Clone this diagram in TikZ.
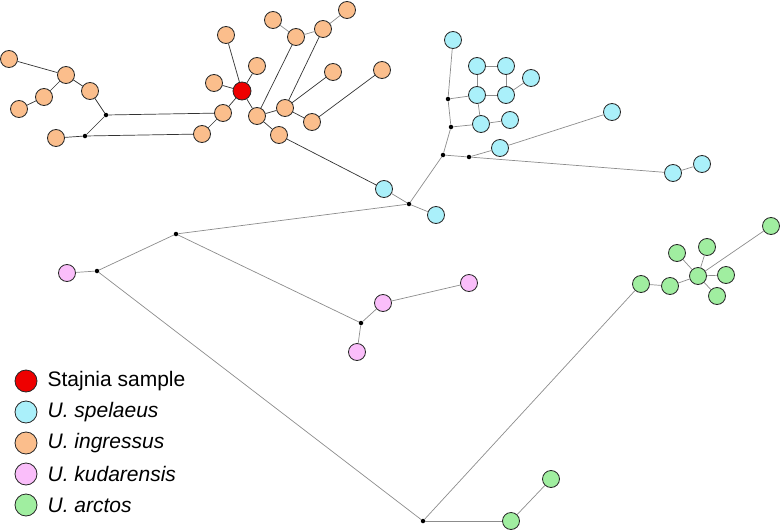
\documentclass[tikz,border=0pt]{standalone}
\usepackage{fontspec}
\setmainfont{Liberation Sans}
\usepackage{tikz}
\usetikzlibrary{positioning}

\definecolor{ingcol}{RGB}{251,190,140}
\definecolor{spelcol}{RGB}{170,240,250}
\definecolor{kudcol}{RGB}{250,190,250}
\definecolor{arccol}{RGB}{160,238,160}
\definecolor{stajcol}{RGB}{238,0,0}
\definecolor{lnkcol}{RGB}{140,140,140}

\tikzset{
  hap/.style={circle,draw=black!85,line width=0.8pt,minimum size=17pt,inner sep=0pt},
  ing/.style={hap,fill=ingcol},
  spel/.style={hap,fill=spelcol},
  kud/.style={hap,fill=kudcol},
  arc/.style={hap,fill=arccol},
  staj/.style={hap,fill=stajcol,minimum size=18pt},
  mv/.style={circle,fill=black,inner sep=0pt,minimum size=4.5pt},
  lnk/.style={draw=black!80,line width=0.7pt},
  lnkg/.style={draw=lnkcol,line width=0.7pt},
  key/.style={hap,minimum width=20pt,minimum height=22pt},
  keytext/.style={right=2pt,font=\fontsize{21}{25}\selectfont,inner sep=0pt}
}

\begin{document}
\begin{tikzpicture}[x=1pt,y=-1pt]
  \useasboundingbox (0,0) rectangle (782,530);
  % U. ingressus
  \foreach \n/\x/\y in {o1/9/59, o2/66/75, o3/90/91, o4/44/97, o5/19/109,
      o6/56/138, o7/223/113, o8/202/134, o9/214/83, o10/257/66, o11/226/35,
      o12/257/116, o13/279/135, o14/285/108, o15/312/122, o16/296/37,
      o17/273/20, o18/323/29, o19/347/10, o20/333/72, o21/382/70} {
    \node[ing] (\n) at (\x,\y) {};
  }
  \node[staj] (stajnia) at (242,91) {};
  % U. spelaeus
  \foreach \n/\x/\y in {s1/453/40, s2/477/66, s3/506/66, s4/531/78,
      s5/477/95, s6/506/95, s7/481/124, s8/510/120, s9/500/148,
      s10/612/112, s11/673/173, s12/702/164, s13/384/189, s14/436/215} {
    \node[spel] (\n) at (\x,\y) {};
  }
  % U. kudarensis
  \foreach \n/\x/\y in {k1/67/273, k2/383/303, k3/469/283, k4/357/352} {
    \node[kud] (\n) at (\x,\y) {};
  }
  % U. arctos
  \foreach \n/\x/\y in {a1/771/226, a2/677/253, a3/707/247, a4/698/276,
      a5/726/275, a6/717/296, a7/670/286, a8/641/284, a9/511/521,
      a10/551/479} {
    \node[arc] (\n) at (\x,\y) {};
  }
  % median vectors
  \foreach \n/\x/\y in {m1/106/115, m2/85/136, m3/448/99, m4/451/127,
      m5/443/155, m6/469/157, m7/409/204, m8/176/234, m9/97/271,
      m10/361/323, m11/423/521} {
    \node[mv] (\n) at (\x,\y) {};
  }
  % links
  \foreach \a/\b in {o1/o2, o2/o4, o4/o5, o2/o3, o3/m1, m1/m2, m2/o6,
      m1/o7, m2/o8, o8/o7, o7/stajnia, o9/stajnia, o10/stajnia,
      o11/stajnia, stajnia/o12, o12/o13, o12/o16, o12/o14, o14/o18,
      o14/o20, o14/o15, o15/o21, o13/s13} {
    \draw[lnk] (\a) -- (\b);
  }
  \foreach \a/\b in {o16/o17, o16/o18, o18/o19,
      s1/m3, m3/s5, s5/s2, s2/s3, s3/s6, s5/s6, s6/s4, s5/s7, m3/m4,
      m4/s7, s7/s8, m4/m5, m5/m6, m6/s9, s9/s10, m6/s11, s11/s12,
      m5/m7, m7/s13, m7/s14, m7/m8,
      m8/m9, m9/k1, m8/m10, m10/k2, k2/k3, m10/k4, m9/m11,
      m11/a9, a9/a10, m11/a8, a8/a7, a7/a4, a4/a2, a4/a3, a4/a5,
      a4/a6, a4/a1} {
    \draw[lnkg] (\a) -- (\b);
  }
  % key
  \node[key,fill=stajcol] (key1) at (26,381) {};
  \node[key,fill=spelcol] (key2) at (26,412) {};
  \node[key,fill=ingcol] (key3) at (26,443) {};
  \node[key,fill=kudcol] (key4) at (26,474) {};
  \node[key,fill=arccol] (key5) at (26,505) {};
  \node[keytext,right=10pt of key1] {Stajnia sample};
  \node[keytext,right=10pt of key2] {\itshape U. spelaeus};
  \node[keytext,right=10pt of key3] {\itshape U. ingressus};
  \node[keytext,right=10pt of key4] {\itshape U. kudarensis};
  \node[keytext,right=10pt of key5] {\itshape U. arctos};
\end{tikzpicture}
\end{document}
